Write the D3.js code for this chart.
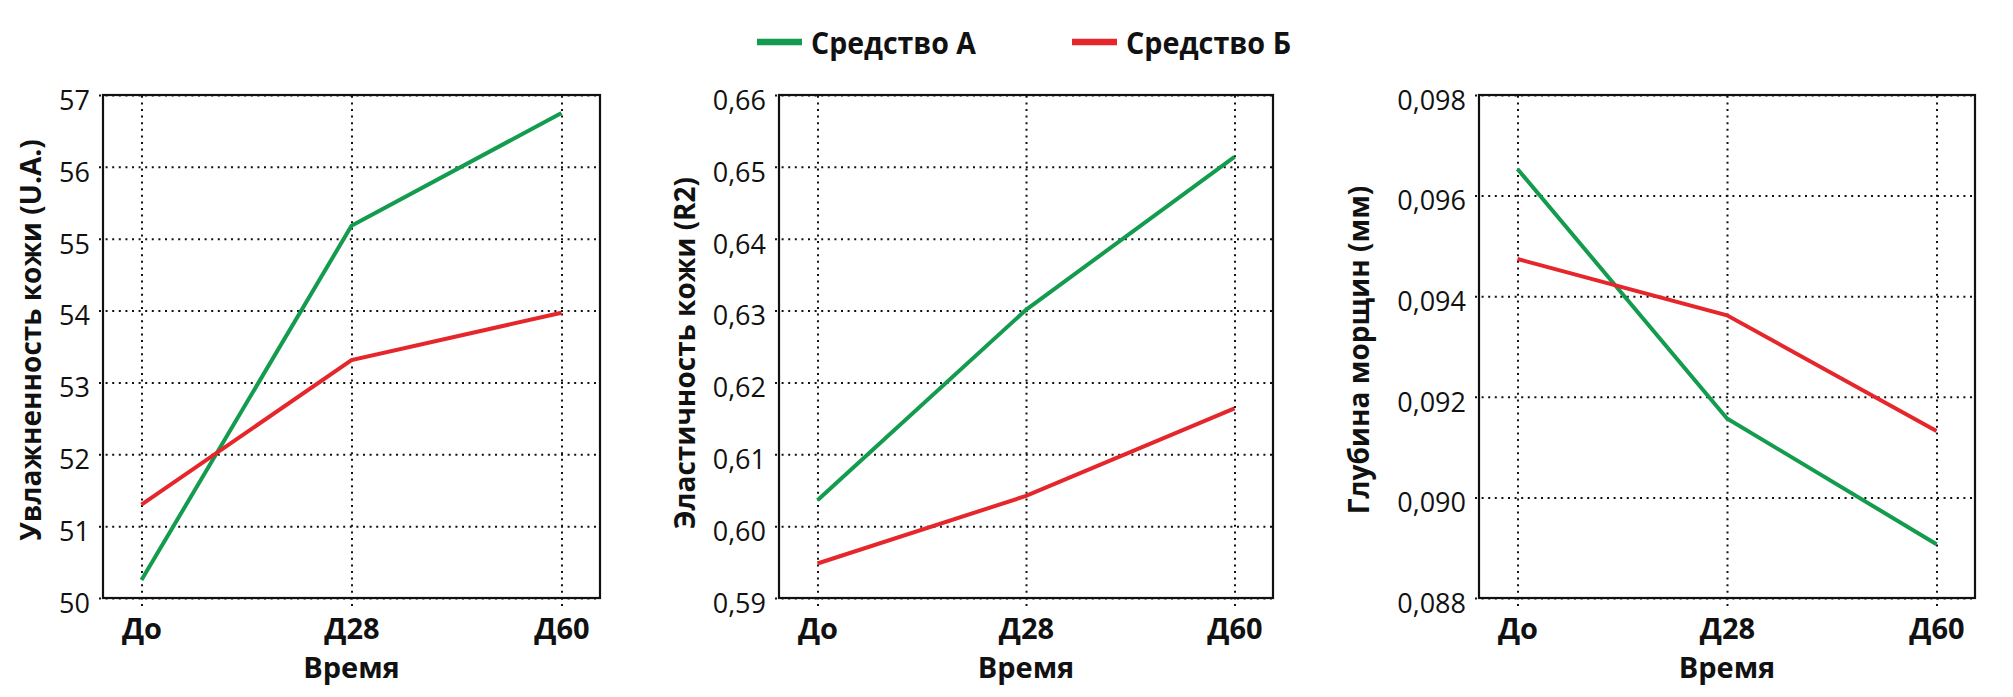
<!DOCTYPE html>
<html><head><meta charset="utf-8">
<script src="https://cdn.jsdelivr.net/npm/d3@7"></script>
<style>
body{margin:0;background:#fff;}
svg{display:block;font-family:"Open Sans","Noto Sans",sans-serif;}
</style></head><body>
<svg id="chart" width="2013" height="697"></svg>
<script>
const categories = ["До", "Д28", "Д60"];
const seriesNames = ["Средство А", "Средство Б"];
const seriesColors = ["#139b4e", "#e5262b"];

const hydrationA = [50.25, 55.18, 56.75];
const hydrationB = [51.30, 53.31, 53.97];
const elasticityA = [0.6036, 0.6301, 0.6514];
const elasticityB = [0.5948, 0.6042, 0.6164];
const wrinkleA = [0.09653, 0.09157, 0.08907];
const wrinkleB = [0.09474, 0.09362, 0.09132];

const hydrationTicks = [50, 51, 52, 53, 54, 55, 56, 57];
const elasticityTicks = [0.59, 0.60, 0.61, 0.62, 0.63, 0.64, 0.65, 0.66];
const wrinkleTicks = [0.088, 0.090, 0.092, 0.094, 0.096, 0.098];

const yTitles = ["Увлажненность кожи (U.A.)", "Эластичность кожи (R2)", "Глубина морщин (мм)"];
const xTitle = "Время";

const panels = [
  {a: hydrationA, b: hydrationB, ticks: hydrationTicks, dec: 0, title: yTitles[0],
   left: 103, right: 600, titleX: 30, titleY: 340},
  {a: elasticityA, b: elasticityB, ticks: elasticityTicks, dec: 2, title: yTitles[1],
   left: 779, right: 1273, titleX: 684, titleY: 353},
  {a: wrinkleA, b: wrinkleB, ticks: wrinkleTicks, dec: 3, title: yTitles[2],
   left: 1479, right: 1975, titleX: 1358, titleY: 350}
];
const plotTop = 95, plotBottom = 598, pad = 38.5;

const svg = d3.select("#chart");
const fmtComma = dec => v => d3.format("." + dec + "f")(v).replace(".", ",");

panels.forEach(p => {
  const x = d3.scalePoint().domain(categories).range([p.left + pad, p.right - pad]);
  const y = d3.scaleLinear().domain([p.ticks[0], p.ticks[p.ticks.length - 1]]).range([plotBottom, plotTop]);
  const g = svg.append("g");
  const w = p.right - p.left, h = plotBottom - plotTop;

  // Y axis with dotted gridlines
  const ya = g.append("g").attr("transform", `translate(${p.left - 4},0)`)
    .call(d3.axisLeft(y).tickValues(p.ticks).tickFormat(fmtComma(p.dec))
      .tickSizeInner(-(w + 4)).tickSizeOuter(0).tickPadding(9));
  ya.select(".domain").remove();
  ya.selectAll(".tick line").attr("stroke", "#111").attr("stroke-width", 2)
    .attr("stroke-dasharray", "2,4.6");
  ya.selectAll(".tick text").attr("font-size", 27).attr("fill", "#111")
    .attr("font-family", "'Open Sans', sans-serif").attr("dy", "0.53em");

  // X axis with dotted gridlines
  const xa = g.append("g").attr("transform", `translate(0,${plotBottom + 8})`)
    .call(d3.axisBottom(x).tickSizeInner(-(h + 8)).tickSizeOuter(0).tickPadding(12));
  xa.select(".domain").remove();
  xa.selectAll(".tick line").attr("stroke", "#111").attr("stroke-width", 2)
    .attr("stroke-dasharray", "2,4.6");
  xa.selectAll(".tick text").attr("font-size", 29).attr("font-weight", 700).attr("fill", "#111")
    .attr("font-family", "'Open Sans', sans-serif");

  // Box
  g.append("rect").attr("x", p.left).attr("y", plotTop).attr("width", w).attr("height", h)
    .attr("fill", "none").attr("stroke", "#111").attr("stroke-width", 2.2);

  // Lines
  const line = d3.line().x((d, i) => x(categories[i])).y(d => y(d));
  [p.a, p.b].forEach((vals, si) => {
    g.append("path").datum(vals).attr("d", line).attr("fill", "none")
      .attr("stroke", seriesColors[si]).attr("stroke-width", 4);
  });

  // Y title
  g.append("text").attr("transform", `translate(${p.titleX},${p.titleY}) rotate(-90)`)
    .attr("text-anchor", "middle").attr("dominant-baseline", "central")
    .attr("font-size", 28).attr("font-weight", 700).attr("fill", "#111").text(p.title);

  // X title
  g.append("text").attr("x", x(categories[1])).attr("y", 678).attr("text-anchor", "middle")
    .attr("font-size", 29).attr("font-weight", 700).attr("fill", "#111").text(xTitle);
});

// Legend
const legendX = [757, 1072];
seriesNames.forEach((name, i) => {
  const lg = svg.append("g").attr("transform", `translate(${legendX[i]},42)`);
  lg.append("line").attr("x1", 0).attr("x2", 45).attr("y1", 0).attr("y2", 0)
    .attr("stroke", seriesColors[i]).attr("stroke-width", 6.5);
  lg.append("text").attr("x", 54).attr("y", 12).attr("font-size", 31).attr("font-weight", 700)
    .attr("fill", "#111").attr("textLength", 165).attr("lengthAdjust", "spacingAndGlyphs").text(name);
});
</script>
</body></html>
